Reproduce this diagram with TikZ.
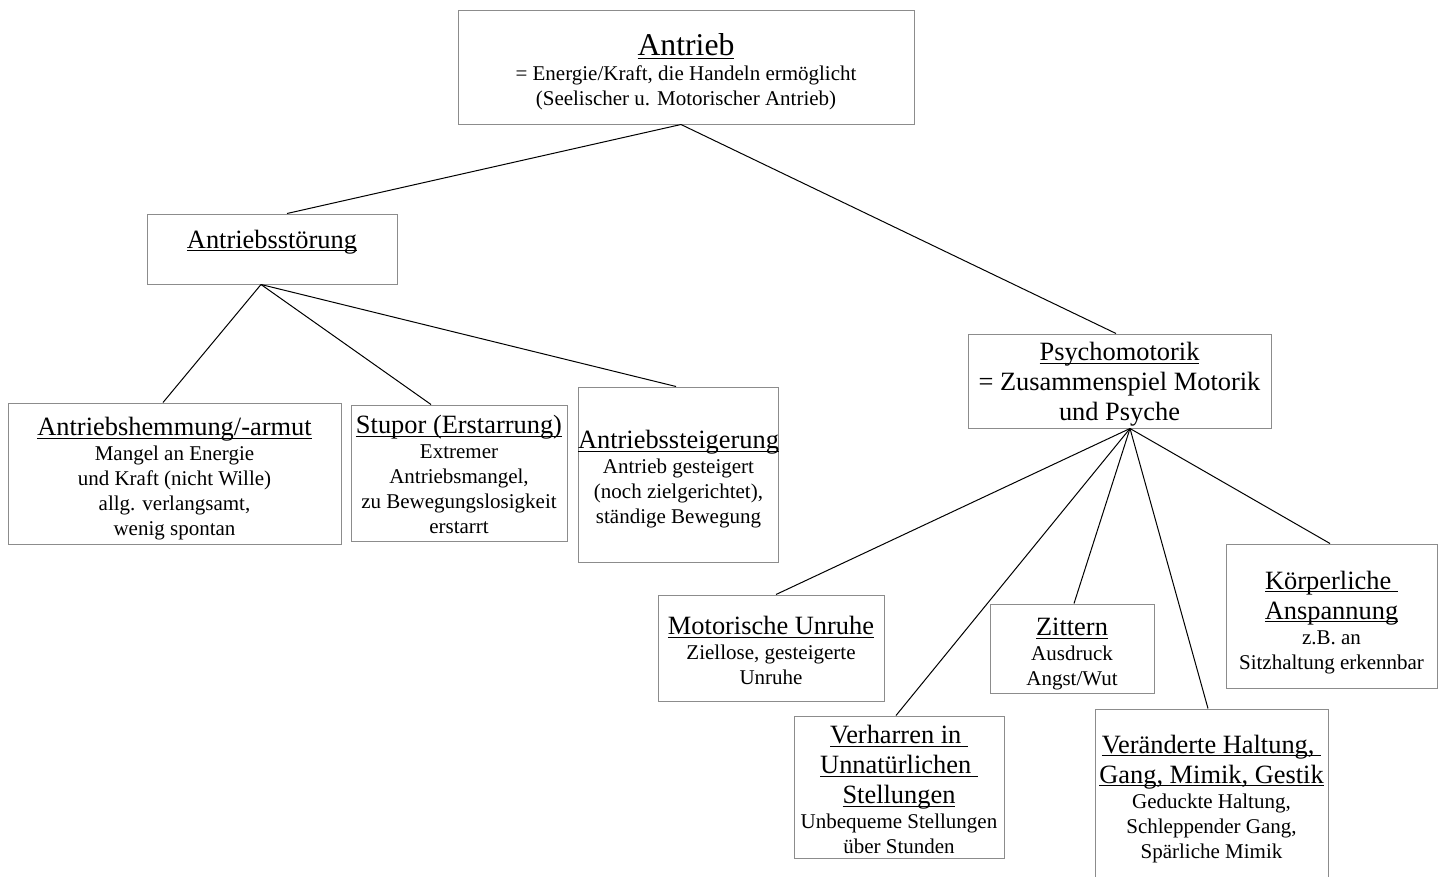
\documentclass[tikz,border=0pt]{standalone}
\usepackage{fontspec}
\setmainfont{Liberation Serif}
\usepackage{tikz}
\usetikzlibrary{positioning,calc}
\newcommand\uln[1]{\setbox0=\hbox{#1}\rlap{\rule[-0.12em]{\wd0}{0.05em}}\box0}
\newcommand\lift[1]{\rule{0pt}{#1}}
\newcommand\bodyf{\fontsize{21}{25}\selectfont}
\newcommand\ttl[1]{{\fontsize{26.4}{30}\selectfont\uln{#1}}}
\tikzset{
  box/.style={draw=black!45, line width=1pt, align=center, inner sep=0pt, font=\bodyf},
  lnk/.style={line width=1pt},
}
\begin{document}
\begin{tikzpicture}[x=1pt, y=-1pt]
    \useasboundingbox (0,0) rectangle (1449,876);
    \clip (0,0) rectangle (1449,876);
    % top
    \node[box, minimum width=456pt, minimum height=114pt] (antr) at (686,67)
      {\lift{31.5pt}{\fontsize{31.7}{36}\selectfont\uln{Antrieb}}\\= Energie/Kraft, die Handeln ermöglicht\\(Seelischer u. Motorischer Antrieb)};
    \node[box, minimum width=250pt, text height=34pt, text depth=36pt] (stoer) at (272,249) {\ttl{Antriebsstörung}};
    \node[box, minimum width=303pt, minimum height=94pt, font=\fontsize{26.4}{30}\selectfont] (psy) at (1119.5,381)
      {\lift{25pt}\uln{Psychomotorik}\\= Zusammenspiel Motorik\\und Psyche};
    % Antriebsstoerung
    \node[box, minimum width=333pt, minimum height=141pt] (hemm) at (174.5,473.5)
      {\lift{29pt}\ttl{Antriebshemmung/-armut}\\Mangel an Energie\\und Kraft (nicht Wille)\\allg. verlangsamt,\\wenig spontan};
    \node[box, minimum width=216pt, minimum height=136pt] (stup) at (459,473)
      {\lift{22pt}\ttl{Stupor (Erstarrung)}\\Extremer\\Antriebsmangel,\\zu Bewegungslosigkeit\\erstarrt};
    \node[box, minimum width=197pt, minimum height=175pt] (steig) at (678.5,474.5)
      {\lift{28pt}\ttl{Antriebssteigerung}\\Antrieb gesteigert\\(noch zielgerichtet),\\ständige Bewegung};
    % Psychomotorik
    \node[box, minimum width=226pt, minimum height=106pt] (unr) at (771,648)
      {\lift{24pt}\ttl{Motorische Unruhe}\\Ziellose, gesteigerte\\Unruhe};
    \node[box, minimum width=210pt, minimum height=142pt] (verh) at (899,787)
      {\lift{24pt}\ttl{Verharren in\ }\\[5pt]\ttl{Unnatürlichen\ }\\[5pt]\ttl{Stellungen}\\Unbequeme Stellungen\\über Stunden};
    \node[box, minimum width=164pt, minimum height=89pt] (zitt) at (1072,648.5)
      {\lift{29.5pt}\ttl{Zittern}\\Ausdruck\\Angst/Wut};
    \node[box, minimum width=233pt, minimum height=174pt] (halt) at (1211.5,796)
      {\lift{24pt}\ttl{Veränderte Haltung,\ }\\[5pt]\ttl{Gang, Mimik, Gestik}\\Geduckte Haltung,\\Schleppender Gang,\\Spärliche Mimik};
    \node[box, minimum width=211pt, minimum height=144pt] (koerp) at (1331.5,616)
      {\lift{31pt}\ttl{Körperliche\ }\\[5pt]\ttl{Anspannung}\\z.B. an\\Sitzhaltung erkennbar};
    % Verbindungen
    \draw[lnk] ([xshift=-5pt]antr.south) -- ([xshift=15pt]stoer.north);
    \draw[lnk] ([xshift=-5pt]antr.south) -- ([xshift=-3.5pt]psy.north);
    \draw[lnk] ([xshift=-11pt]stoer.south) -- ([xshift=-11.5pt]hemm.north);
    \draw[lnk] ([xshift=-11pt]stoer.south) -- ([xshift=-28pt]stup.north);
    \draw[lnk] ([xshift=-11pt]stoer.south) -- ([xshift=-2.5pt]steig.north);
    \draw[lnk] ([xshift=10.5pt]psy.south) -- ([xshift=5pt]unr.north);
    \draw[lnk] ([xshift=10.5pt]psy.south) -- ([xshift=-3pt]verh.north);
    \draw[lnk] ([xshift=10.5pt]psy.south) -- ([xshift=2pt]zitt.north);
    \draw[lnk] ([xshift=10.5pt]psy.south) -- ([xshift=-3.5pt]halt.north);
    \draw[lnk] ([xshift=10.5pt]psy.south) -- ([xshift=-1.5pt]koerp.north);
\end{tikzpicture}
\end{document}
